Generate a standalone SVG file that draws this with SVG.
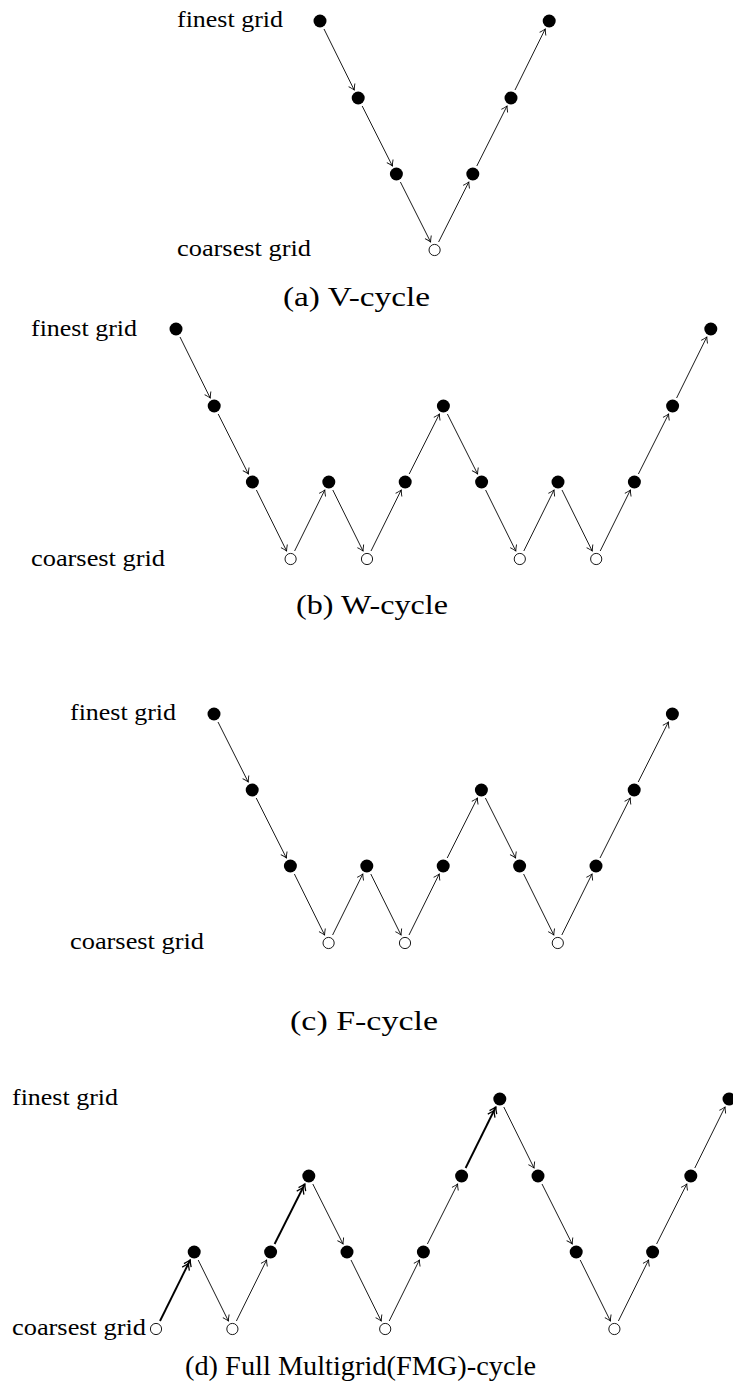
<svg xmlns="http://www.w3.org/2000/svg" width="733" height="1392" viewBox="0 0 733 1392">
<style>
.lbl{font-family:"Liberation Serif","DejaVu Serif",serif;font-size:23px;fill:#000}
.cap{font-family:"Liberation Serif","DejaVu Serif",serif;font-size:28px;fill:#000}
.f{fill:#000}
.o{fill:#fff;stroke:#000;stroke-width:0.9}
.e{stroke:#000;stroke-width:0.9;fill:none;marker-end:url(#ah)}
.t{stroke:#000;stroke-width:1.9;fill:none;marker-end:url(#ah2)}
</style>
<defs>
<marker id="ah" markerUnits="userSpaceOnUse" markerWidth="12" markerHeight="12" viewBox="-8 -6 10 12" refX="0" refY="0" orient="auto">
<path d="M-5.5,-3.5 Q-2,-1 0,0 Q-2,1 -5.5,3.5" fill="none" stroke="#000" stroke-width="0.9"/>
</marker>
<marker id="ah2" markerUnits="userSpaceOnUse" markerWidth="16" markerHeight="14" viewBox="-12 -7 14 14" refX="0" refY="0" orient="auto">
<path d="M-6,-4 Q-2,-1 0,0 Q-2,1 -6,4 M-10,-4 Q-6,-1 -4,0 Q-6,1 -10,4" fill="none" stroke="#000" stroke-width="1.3"/>
</marker>
</defs>

<!-- (a) V-cycle -->
<g id="labels-a">
<text class="lbl" x="177" y="27" textLength="106" lengthAdjust="spacingAndGlyphs">finest grid</text>
<text class="lbl" x="177" y="256" textLength="134" lengthAdjust="spacingAndGlyphs">coarsest grid</text>
<text class="cap" x="283" y="306" textLength="147" lengthAdjust="spacingAndGlyphs">(a) V-cycle</text>
</g>
<g id="connectors-a">
<line class="e" x1="324" y1="29" x2="354.2" y2="90"/>
<line class="e" x1="362.2" y1="106" x2="392.4" y2="166"/>
<line class="e" x1="400.4" y1="182" x2="430.6" y2="242"/>
<line class="e" x1="438.6" y1="242" x2="468.8" y2="182"/>
<line class="e" x1="476.8" y1="166" x2="507" y2="106"/>
<line class="e" x1="515" y1="90" x2="545.2" y2="29"/>
</g>
<g id="a-n0"><circle class="f" cx="320" cy="21" r="6.5"/></g>
<g id="a-n1"><circle class="f" cx="358.2" cy="98" r="6.5"/></g>
<g id="a-n2"><circle class="f" cx="396.4" cy="174" r="6.5"/></g>
<g id="a-n3"><circle class="o" cx="434.6" cy="250" r="5.6"/></g>
<g id="a-n4"><circle class="f" cx="472.8" cy="174" r="6.5"/></g>
<g id="a-n5"><circle class="f" cx="511" cy="98" r="6.5"/></g>
<g id="a-n6"><circle class="f" cx="549.2" cy="21" r="6.5"/></g>

<!-- (b) W-cycle -->
<g id="labels-b">
<text class="lbl" x="31" y="336" textLength="106" lengthAdjust="spacingAndGlyphs">finest grid</text>
<text class="lbl" x="31" y="566" textLength="134" lengthAdjust="spacingAndGlyphs">coarsest grid</text>
<text class="cap" x="296" y="614" textLength="152" lengthAdjust="spacingAndGlyphs">(b) W-cycle</text>
</g>
<g id="connectors-b">
<line class="e" x1="180" y1="337" x2="210.2" y2="398"/>
<line class="e" x1="218.2" y1="414" x2="248.4" y2="474"/>
<line class="e" x1="256.4" y1="490" x2="286.6" y2="551"/>
<line class="e" x1="294.6" y1="551" x2="324.8" y2="490"/>
<line class="e" x1="332.8" y1="490" x2="363" y2="551"/>
<line class="e" x1="371" y1="551" x2="401.2" y2="490"/>
<line class="e" x1="409.2" y1="474" x2="439.4" y2="414"/>
<line class="e" x1="447.4" y1="414" x2="477.6" y2="474"/>
<line class="e" x1="485.6" y1="490" x2="515.8" y2="551"/>
<line class="e" x1="523.8" y1="551" x2="554" y2="490"/>
<line class="e" x1="562" y1="490" x2="592.2" y2="551"/>
<line class="e" x1="600.2" y1="551" x2="630.4" y2="490"/>
<line class="e" x1="638.4" y1="474" x2="668.6" y2="414"/>
<line class="e" x1="676.6" y1="398" x2="706.8" y2="337"/>
</g>
<g id="b-n0"><circle class="f" cx="176" cy="329" r="6.5"/></g>
<g id="b-n1"><circle class="f" cx="214.2" cy="406" r="6.5"/></g>
<g id="b-n2"><circle class="f" cx="252.4" cy="482" r="6.5"/></g>
<g id="b-n3"><circle class="o" cx="290.6" cy="559" r="5.6"/></g>
<g id="b-n4"><circle class="f" cx="328.8" cy="482" r="6.5"/></g>
<g id="b-n5"><circle class="o" cx="367" cy="559" r="5.6"/></g>
<g id="b-n6"><circle class="f" cx="405.2" cy="482" r="6.5"/></g>
<g id="b-n7"><circle class="f" cx="443.4" cy="406" r="6.5"/></g>
<g id="b-n8"><circle class="f" cx="481.6" cy="482" r="6.5"/></g>
<g id="b-n9"><circle class="o" cx="519.8" cy="559" r="5.6"/></g>
<g id="b-n10"><circle class="f" cx="558" cy="482" r="6.5"/></g>
<g id="b-n11"><circle class="o" cx="596.2" cy="559" r="5.6"/></g>
<g id="b-n12"><circle class="f" cx="634.4" cy="482" r="6.5"/></g>
<g id="b-n13"><circle class="f" cx="672.6" cy="406" r="6.5"/></g>
<g id="b-n14"><circle class="f" cx="710.8" cy="329" r="6.5"/></g>

<!-- (c) F-cycle -->
<g id="labels-c">
<text class="lbl" x="70" y="720" textLength="106" lengthAdjust="spacingAndGlyphs">finest grid</text>
<text class="lbl" x="70" y="949" textLength="134" lengthAdjust="spacingAndGlyphs">coarsest grid</text>
<text class="cap" x="290" y="1030" textLength="148" lengthAdjust="spacingAndGlyphs">(c) F-cycle</text>
</g>
<g id="connectors-c">
<line class="e" x1="218" y1="722" x2="248.2" y2="782"/>
<line class="e" x1="256.2" y1="798" x2="286.4" y2="858"/>
<line class="e" x1="294.4" y1="874" x2="324.6" y2="935"/>
<line class="e" x1="332.6" y1="935" x2="362.8" y2="874"/>
<line class="e" x1="370.8" y1="874" x2="401" y2="935"/>
<line class="e" x1="409" y1="935" x2="439.2" y2="874"/>
<line class="e" x1="447.2" y1="858" x2="477.4" y2="798"/>
<line class="e" x1="485.4" y1="798" x2="515.6" y2="858"/>
<line class="e" x1="523.6" y1="874" x2="553.8" y2="935"/>
<line class="e" x1="561.8" y1="935" x2="592" y2="874"/>
<line class="e" x1="600" y1="858" x2="630.2" y2="798"/>
<line class="e" x1="638.2" y1="782" x2="668.4" y2="722"/>
</g>
<g id="c-n0"><circle class="f" cx="214" cy="714" r="6.5"/></g>
<g id="c-n1"><circle class="f" cx="252.2" cy="790" r="6.5"/></g>
<g id="c-n2"><circle class="f" cx="290.4" cy="866" r="6.5"/></g>
<g id="c-n3"><circle class="o" cx="328.6" cy="943" r="5.6"/></g>
<g id="c-n4"><circle class="f" cx="366.8" cy="866" r="6.5"/></g>
<g id="c-n5"><circle class="o" cx="405" cy="943" r="5.6"/></g>
<g id="c-n6"><circle class="f" cx="443.2" cy="866" r="6.5"/></g>
<g id="c-n7"><circle class="f" cx="481.4" cy="790" r="6.5"/></g>
<g id="c-n8"><circle class="f" cx="519.6" cy="866" r="6.5"/></g>
<g id="c-n9"><circle class="o" cx="557.8" cy="943" r="5.6"/></g>
<g id="c-n10"><circle class="f" cx="596" cy="866" r="6.5"/></g>
<g id="c-n11"><circle class="f" cx="634.2" cy="790" r="6.5"/></g>
<g id="c-n12"><circle class="f" cx="672.4" cy="714" r="6.5"/></g>

<!-- (d) FMG-cycle -->
<g id="labels-d">
<text class="lbl" x="12" y="1105" textLength="106" lengthAdjust="spacingAndGlyphs">finest grid</text>
<text class="lbl" x="12" y="1335" textLength="134" lengthAdjust="spacingAndGlyphs">coarsest grid</text>
<text class="cap" x="185" y="1375" textLength="351" lengthAdjust="spacingAndGlyphs">(d) Full Multigrid(FMG)-cycle</text>
</g>
<g id="connectors-d">
<line class="t" x1="160" y1="1321" x2="190.2" y2="1260"/>
<line class="e" x1="198.2" y1="1260" x2="228.4" y2="1321"/>
<line class="e" x1="236.4" y1="1321" x2="266.6" y2="1260"/>
<line class="t" x1="274.6" y1="1244" x2="304.8" y2="1184"/>
<line class="e" x1="312.8" y1="1184" x2="343" y2="1244"/>
<line class="e" x1="351" y1="1260" x2="381.2" y2="1321"/>
<line class="e" x1="389.2" y1="1321" x2="419.4" y2="1260"/>
<line class="e" x1="427.4" y1="1244" x2="457.6" y2="1184"/>
<line class="t" x1="465.6" y1="1168" x2="495.8" y2="1107"/>
<line class="e" x1="503.8" y1="1107" x2="534" y2="1168"/>
<line class="e" x1="542" y1="1184" x2="572.2" y2="1244"/>
<line class="e" x1="580.2" y1="1260" x2="610.4" y2="1321"/>
<line class="e" x1="618.4" y1="1321" x2="648.6" y2="1260"/>
<line class="e" x1="656.6" y1="1244" x2="686.8" y2="1184"/>
<line class="e" x1="694.8" y1="1168" x2="725" y2="1107"/>
</g>
<g id="d-n0"><circle class="o" cx="156" cy="1329" r="5.6"/></g>
<g id="d-n1"><circle class="f" cx="194.2" cy="1252" r="6.5"/></g>
<g id="d-n2"><circle class="o" cx="232.4" cy="1329" r="5.6"/></g>
<g id="d-n3"><circle class="f" cx="270.6" cy="1252" r="6.5"/></g>
<g id="d-n4"><circle class="f" cx="308.8" cy="1176" r="6.5"/></g>
<g id="d-n5"><circle class="f" cx="347" cy="1252" r="6.5"/></g>
<g id="d-n6"><circle class="o" cx="385.2" cy="1329" r="5.6"/></g>
<g id="d-n7"><circle class="f" cx="423.4" cy="1252" r="6.5"/></g>
<g id="d-n8"><circle class="f" cx="461.6" cy="1176" r="6.5"/></g>
<g id="d-n9"><circle class="f" cx="499.8" cy="1099" r="6.5"/></g>
<g id="d-n10"><circle class="f" cx="538" cy="1176" r="6.5"/></g>
<g id="d-n11"><circle class="f" cx="576.2" cy="1252" r="6.5"/></g>
<g id="d-n12"><circle class="o" cx="614.4" cy="1329" r="5.6"/></g>
<g id="d-n13"><circle class="f" cx="652.6" cy="1252" r="6.5"/></g>
<g id="d-n14"><circle class="f" cx="690.8" cy="1176" r="6.5"/></g>
<g id="d-n15"><circle class="f" cx="729" cy="1099" r="6.5"/></g>
</svg>
